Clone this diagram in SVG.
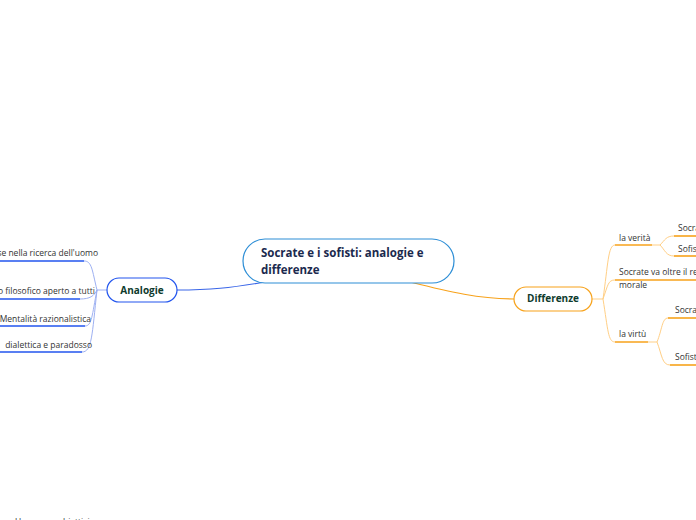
<svg xmlns="http://www.w3.org/2000/svg" width="696" height="520" viewBox="0 0 696 520">
<style>
.t{font-family:"Open Sans","Noto Sans",sans-serif;font-size:8.5px;fill:#333}
.nb{font-family:"Open Sans","Noto Sans",sans-serif;font-weight:bold;fill:#0e3b2d;font-size:10px}
.bl{stroke:#2255ee;stroke-width:1.5;fill:none}
.blc{stroke:#9db0f2;stroke-width:1;fill:none}
.or{stroke:#f7a21b;stroke-width:1.6;fill:none}
.orc{stroke:#ffcf85;stroke-width:1;fill:none}
</style>
<rect width="696" height="520" fill="#fff"/>
<g id="connectors">
<path d="M265,282 C230,288 210,290 177,290" stroke="#3a66e8" stroke-width="1.2" fill="none"/>
<path d="M410,282 C450,292 480,299 514,299" stroke="#f7a21b" stroke-width="1.2" fill="none"/>
<path class="blc" d="M107,290 L97,290"/>
<path class="blc" d="M97,290 C92,270 92,261 84,261"/>
<path class="blc" d="M97,290 C94,296 90,299 80,299"/>
<path class="blc" d="M97,290 C92,315 92,326 85,326"/>
<path class="blc" d="M97,290 C92,335 92,352 82,352"/>
<path class="orc" d="M592,299 L603,299"/>
<path class="orc" d="M603,299 C608,265 608,245 615,245"/>
<path class="orc" d="M603,299 C608,285 608,280 615,280"/>
<path class="orc" d="M603,299 C608,330 608,342 615,342"/>
<path class="orc" d="M652,245 L660,245 C665,240 666,236 674,236"/>
<path class="orc" d="M660,245 C665,250 666,256 674,256"/>
<path class="orc" d="M648,342 L657,342 C662,330 662,318 668,318"/>
<path class="orc" d="M657,342 C662,355 662,365 670,365"/>
</g>
<g id="central">
<rect x="243" y="239" width="211" height="44" rx="22" fill="#fff" stroke="#2d8ed6" stroke-width="1.2"/>
<text x="261" y="257" font-family="'Open Sans','Noto Sans',sans-serif" font-weight="bold" font-size="11.5" fill="#1b2a4e">Socrate e i sofisti: analogie e</text>
<text x="261" y="274" font-family="'Open Sans','Noto Sans',sans-serif" font-weight="bold" font-size="11.5" fill="#1b2a4e">differenze</text>
</g>
<g id="analogie">
<rect x="107" y="278" width="70" height="24" rx="12" fill="#fff" stroke="#2255ee" stroke-width="1.2"/>
<text class="nb" x="142" y="294" text-anchor="middle">Analogie</text>
</g>
<g id="a1"><path class="bl" d="M0,261 H84"/><text class="t" x="98" y="256" text-anchor="end">se nella ricerca dell'uomo</text></g>
<g id="a2"><path class="bl" d="M0,299 H80"/><text class="t" x="95" y="294" text-anchor="end">o filosofico aperto a tutti</text></g>
<g id="a3"><path class="bl" d="M0,326 H85"/><text class="t" x="91" y="322" text-anchor="end">Mentalità razionalistica</text></g>
<g id="a4"><path class="bl" d="M0,352 H82"/><text class="t" x="92" y="348" text-anchor="end">dialettica e paradosso</text></g>
<g id="a5"><text class="t" x="15" y="525">Un sapere obiettivi</text></g>
<g id="differenze">
<rect x="514" y="287" width="78" height="24" rx="12" fill="#fff" stroke="#f7a21b" stroke-width="1.2"/>
<text class="nb" x="553" y="302" text-anchor="middle">Differenze</text>
</g>
<g id="d1"><path class="or" d="M615,245 H652"/><text class="t" x="619" y="241">la verità</text></g>
<g id="d1a"><path class="or" d="M674,236 H696"/><text class="t" x="678" y="231">Socrate</text></g>
<g id="d1b"><path class="or" d="M674,256 H696"/><text class="t" x="678" y="252">Sofisti</text></g>
<g id="d2"><path class="or" d="M615,280 H696"/><text class="t" x="619" y="275">Socrate va oltre il relativismo</text><text class="t" x="619" y="288">morale</text></g>
<g id="d3"><path class="or" d="M615,342 H648"/><text class="t" x="619" y="337">la virtù</text></g>
<g id="d3a"><path class="or" d="M668,318 H696"/><text class="t" x="675" y="313">Socrate</text></g>
<g id="d3b"><path class="or" d="M670,365 H696"/><text class="t" x="675" y="360">Sofisti</text></g>
</svg>
